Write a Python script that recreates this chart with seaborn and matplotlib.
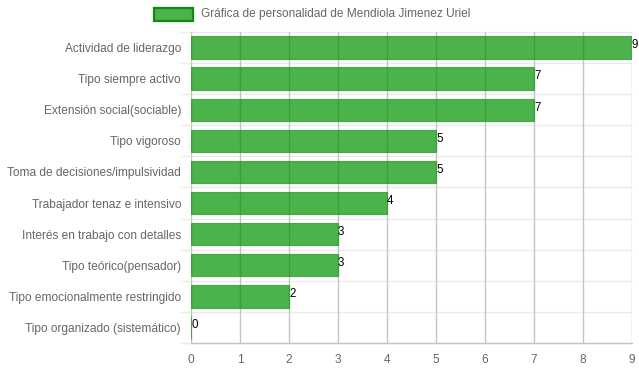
import matplotlib
matplotlib.use("Agg")
import matplotlib.pyplot as plt
import seaborn as sns
import pandas as pd
from matplotlib.patches import Rectangle
from matplotlib.transforms import blended_transform_factory

categories = [
    "Actividad de liderazgo",
    "Tipo siempre activo",
    "Extensión social(sociable)",
    "Tipo vigoroso",
    "Toma de decisiones/impulsividad",
    "Trabajador tenaz e intensivo",
    "Interés en trabajo con detalles",
    "Tipo teórico(pensador)",
    "Tipo emocionalmente restringido",
    "Tipo organizado (sistemático)",
]
values = [9, 7, 7, 5, 5, 4, 3, 3, 2, 0]
x_ticks = [0, 1, 2, 3, 4, 5, 6, 7, 8, 9]
legend_label = "Gráfica de personalidad de Mendiola Jimenez Uriel"

sns.set_theme(style="white")
plt.rcParams["font.family"] = ["Liberation Sans", "DejaVu Sans"]

W, H = 639, 372
fig = plt.figure(figsize=(W / 100, H / 100), dpi=100)
ax = fig.add_axes([191 / W, (H - 343) / H, (632 - 191) / W, (343 - 32) / H])

df = pd.DataFrame({"cat": categories, "val": values})
bar_rgb = (0 / 255, 146 / 255, 0 / 255)
sns.barplot(data=df, y="cat", x="val", orient="h", ax=ax, color=bar_rgb,
            width=0.72, saturation=1, zorder=3)
for p in ax.patches:
    p.set_alpha(0.7)
    p.set_edgecolor((0.1, 0.6, 0.1, 0.5))
    p.set_linewidth(0.8)
    p.set_zorder(3)

ax.set_xlim(0, 9)
ax.set_ylim(len(categories) - 0.5, -0.5)
ax.set_xticks(x_ticks)
ax.set_xticklabels([str(t) for t in x_ticks])
ax.set_xlabel("")
ax.set_ylabel("")

# vertical grid lines beneath the translucent bars
for t in x_ticks:
    ax.axvline(t, color="#c4c4c4", lw=1, zorder=1)
# horizontal category boundaries extending into tick area
trans = blended_transform_factory(ax.transAxes, ax.transData)
for b in range(len(categories) + 1):
    yb = b - 0.5
    ax.plot([-10 / 441, 1], [yb, yb], transform=trans, color="#ebebeb",
            lw=1, zorder=0.5, clip_on=False)

for s in ax.spines.values():
    s.set_visible(False)
ax.spines["bottom"].set_visible(True)
ax.spines["bottom"].set_color("#c4c4c4")
ax.spines["bottom"].set_linewidth(1)

ax.tick_params(axis="x", length=5.8, width=0.8, color="#c4c4c4", colors="#666666",
               labelsize=8.6, pad=2)
ax.tick_params(axis="x", color="#c4c4c4")
ax.tick_params(axis="y", length=0, labelsize=8.6, labelcolor="#666666", pad=7.2)

# value labels
for i, v in enumerate(values):
    ax.text(v, i - 0.07, str(v), ha="left", va="center", fontsize=8.3, color="black",
            zorder=5, clip_on=False)

# legend
fig.patches.append(Rectangle((154 / W, 1 - 21 / H), 39 / W, 13 / H,
                             transform=fig.transFigure, facecolor=(76/255, 178/255, 76/255),
                             edgecolor="#128a12", linewidth=1.6))
fig.text(201 / W, 1 - 14.5 / H, legend_label, ha="left", va="center",
         fontsize=8.6, color="#666666")

fig.savefig("out.png", dpi=100)
